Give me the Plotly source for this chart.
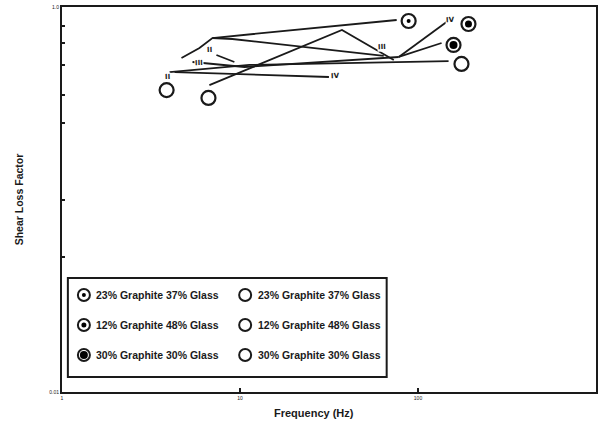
import math
import plotly.graph_objects as go

# ---- data -------------------------------------------------------------
# Connecting traces between test conditions (frequency in Hz, loss factor)
path_a_x = [4.69, 5.92, 7.00, 75.9]
path_a_y = [0.543, 0.612, 0.690, 0.856]
path_b_x = [7.00, 9.06, 64.2]
path_b_y = [0.690, 0.682, 0.557]
path_c_x = [6.73, 37.4, 73.1]
path_c_y = [0.393, 0.760, 0.531]
path_d_x = [4.02, 11.3, 148.5]
path_d_y = [0.459, 0.500, 0.524]
path_e_x = [4.29, 31.6]
path_e_y = [0.459, 0.433]
path_f_x = [5.41, 10.6, 78.0]
path_f_y = [0.518, 0.488, 0.550]
path_g_x = [78.0, 144.7]
path_g_y = [0.550, 0.836]
path_h_x = [78.0, 135.7]
path_h_y = [0.550, 0.650]
path_i_x = [7.37, 9.30]
path_i_y = [0.563, 0.518]

paths = [
    (path_a_x, path_a_y), (path_b_x, path_b_y), (path_c_x, path_c_y),
    (path_d_x, path_d_y), (path_e_x, path_e_y), (path_f_x, path_f_y),
    (path_g_x, path_g_y), (path_h_x, path_h_y), (path_i_x, path_i_y),
]

# Mode labels along the traces
mode_labels = ["IV", "III", "II", "III", "II", "IV"]
mode_label_x = [152.3, 62.6, 6.73, 5.92, 3.92, 34.2]
mode_label_y = [0.856, 0.620, 0.598, 0.512, 0.433, 0.438]

# Measured points per composition
series_names = ["23% Graphite 37% Glass", "12% Graphite 48% Glass",
                "30% Graphite 30% Glass"]
solid_freq = [88.6, 192.1, 158.3]
solid_loss = [0.846, 0.816, 0.635]
open_freq = [3.87, 6.65, 175.5]
open_loss = [0.370, 0.337, 0.506]
center_size = [4, 7, 8]
legend_center_size = [4, 5, 8]

x_tick_vals = [1, 10, 100, 1000]
x_tick_text = ["1", "10", "100", "1000"]
y_tick_vals = [0.01, 1]
y_tick_text = ["0.01", "1.0"]
y_minor_vals = [0.05, 0.1, 0.25, 0.35, 0.5, 0.65, 0.8]

INK = "#1a1a1a"
FONT = "Liberation Sans"

fig = go.Figure()

for px_, py_ in paths:
    fig.add_trace(go.Scatter(x=px_, y=py_, mode="lines",
                             line=dict(color=INK, width=1.8),
                             showlegend=False, hoverinfo="skip"))

# open rings for every point, centres for the solid series
fig.add_trace(go.Scatter(x=solid_freq + open_freq, y=solid_loss + open_loss,
                         mode="markers",
                         marker=dict(symbol="circle", size=14, color="white",
                                     line=dict(color=INK, width=2.2)),
                         showlegend=False))
fig.add_trace(go.Scatter(x=solid_freq, y=solid_loss, mode="markers",
                         marker=dict(symbol="circle", size=center_size,
                                     color="black", opacity=1,
                                     line=dict(width=0)),
                         showlegend=False))

# annotations on log axes are placed in log10 units
for t, lx, ly in zip(mode_labels, mode_label_x, mode_label_y):
    fig.add_annotation(x=math.log10(lx), y=math.log10(ly), xref="x", yref="y",
                       text="<b>" + t + "</b>", showarrow=False,
                       textangle=-2,
                       font=dict(family="DejaVu Sans", size=7, color="#222"),
                       bgcolor="white", borderpad=0)

# ---- legend box -------------------------------------------------------
fig.add_shape(type="rect", xref="paper", yref="paper",
              x0=0.011, x1=0.608, y0=0.039, y1=0.296,
              line=dict(color=INK, width=2), fillcolor="white")
row_y = [0.252, 0.174, 0.096]
for i, name in enumerate(series_names):
    for col_x, text_x, filled in [(0.041, 0.060, True), (0.343, 0.364, False)]:
        fig.add_shape(type="circle", xref="paper", yref="paper",
                      xsizemode="pixel", ysizemode="pixel",
                      xanchor=col_x, yanchor=row_y[i],
                      x0=-6, x1=6, y0=-6, y1=6,
                      line=dict(color=INK, width=2), fillcolor="white")
        if filled:
            r = legend_center_size[i] / 2
            fig.add_shape(type="circle", xref="paper", yref="paper",
                          xsizemode="pixel", ysizemode="pixel",
                          xanchor=col_x, yanchor=row_y[i],
                          x0=-r, x1=r, y0=-r, y1=r,
                          line=dict(width=0), fillcolor="black")
        fig.add_annotation(x=text_x, y=row_y[i], xref="paper", yref="paper",
                           xanchor="left", yanchor="middle",
                           text="<b>" + name + "</b>", showarrow=False,
                           font=dict(family=FONT, size=10.5, color=INK))

# x-axis title, set slightly left of the plot centre
fig.add_annotation(x=0.472, y=-0.033, xref="paper", yref="paper",
                   xanchor="center", yanchor="top",
                   text="<b>Frequency (Hz)</b>", showarrow=False,
                   font=dict(family=FONT, size=11, color=INK))

fig.update_xaxes(type="log", range=[0, 3], tickvals=x_tick_vals,
                 ticktext=x_tick_text, ticks="inside", ticklen=4,
                 tickcolor=INK, tickwidth=1.5,
                 tickfont=dict(family=FONT, size=5, color=INK),
                 showline=True, linecolor=INK, linewidth=2, mirror=True,
                 showgrid=False, zeroline=False)
fig.update_yaxes(type="log", range=[-2, 0], tickvals=y_tick_vals,
                 ticktext=y_tick_text, ticks="inside", ticklen=4,
                 tickcolor=INK, tickwidth=1.5,
                 tickfont=dict(family=FONT, size=5, color=INK),
                 minor=dict(tickvals=y_minor_vals, ticks="inside", ticklen=3,
                            tickcolor=INK, showgrid=False),
                 showline=True, linecolor=INK, linewidth=2, mirror=True,
                 showgrid=False, zeroline=False,
                 title=dict(text="<b>Shear Loss Factor</b>", standoff=24,
                            font=dict(family=FONT, size=10.5, color=INK)))

fig.update_layout(width=600, height=428,
                  margin=dict(l=62, r=2, t=7, b=36),
                  paper_bgcolor="white", plot_bgcolor="white",
                  showlegend=False)

fig.write_html("out.html")
